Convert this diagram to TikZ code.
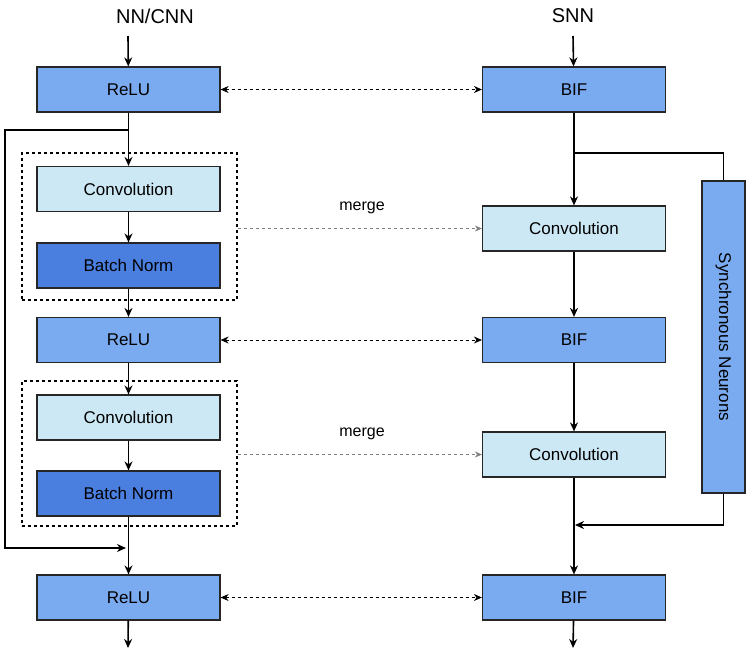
\documentclass[tikz,border=0pt]{standalone}
\usepackage{fontspec}
\setmainfont{Liberation Sans}
\usetikzlibrary{arrows.meta}
\definecolor{mid}{HTML}{7AAAF0}
\definecolor{light}{HTML}{CCE8F5}
\definecolor{dark}{HTML}{4A7FE0}
\begin{document}
\begin{tikzpicture}[x=1pt,y=-1pt,
 box/.style={draw=black!85,line width=1.2pt,minimum width=183pt,minimum height=45pt,inner sep=0pt,font=\fontsize{17}{20}\selectfont},
 flow/.style={line width=1.6pt,-{Stealth[length=9pt,width=8pt]}},
 line/.style={line width=1.6pt},
 dd/.style={dashed,line width=0.8pt,{Stealth[length=8pt,width=7pt]}-{Stealth[length=8pt,width=7pt]}},
 mg/.style={dashed,gray,line width=0.7pt,-{Stealth[length=7pt,width=6pt]}},
 grp/.style={draw,dashed,line width=1.4pt}]
\useasboundingbox (0,0) rectangle (748,654);
% left
\node[box,fill=mid] (r1) at (128.5,89.5) {ReLU};
\node[box,fill=light] (c1) at (128.5,189) {Convolution};
\node[box,fill=dark] (b1) at (128.5,265.5) {Batch Norm};
\node[box,fill=mid] (r2) at (128.5,340) {ReLU};
\node[box,fill=light] (c2) at (128.5,417.5) {Convolution};
\node[box,fill=dark] (b2) at (128.5,493.5) {Batch Norm};
\node[box,fill=mid] (r3) at (128.5,597.5) {ReLU};
\node[grp,minimum width=215pt,minimum height=147pt] (g1) at (129.5,226.5) {};
\node[grp,minimum width=215pt,minimum height=145pt] (g2) at (129.5,453.5) {};
% right
\node[box,fill=mid] (f1) at (574,89.5) {BIF};
\node[box,fill=light] (k1) at (574,228.5) {Convolution};
\node[box,fill=mid] (f2) at (574,340) {BIF};
\node[box,fill=light] (k2) at (574,454.5) {Convolution};
\node[box,fill=mid] (f3) at (574,597.5) {BIF};
\node[draw=black!85,line width=1.2pt,fill=mid,minimum width=312pt,minimum height=43pt,rotate=-90,font=\fontsize{17}{20}\selectfont] (s) at (723.5,337) {Synchronous Neurons};
% labels
\node[font=\fontsize{20}{24}\selectfont] (t1) at (155,16) {NN/CNN};
\node[font=\fontsize{20}{24}\selectfont] (t2) at (573,16) {SNN};
\coordinate (i1) at (128,36); \coordinate (i2) at (573,36);
\draw[flow] (i1) -- (r1);
\draw[flow] (i2) -- (f1);
% left flow
\draw[flow] (r1) -- (c1);
\draw[flow] (c1) -- (b1);
\draw[flow] (b1) -- (r2);
\draw[flow] (r2) -- (c2);
\draw[flow] (c2) -- (b2);
\draw[flow] (b2) -- (r3);
\coordinate (o1) at (128,648); \coordinate (o2) at (573,648);
\draw[flow] (r3) -- (o1);
\draw[flow] (f3) -- (o2);
\draw[line,-{Stealth[length=9pt,width=8pt]}] (128,130) -- (5,130) -- (5,548) -- (126,548);
% right flow
\draw[flow] (f1) -- (k1);
\draw[flow] (k1) -- (f2);
\draw[flow] (f2) -- (k2);
\draw[flow] (k2) -- (f3);
\draw[line] (573,153) -| (s.west);
\draw[line,-{Stealth[length=9pt,width=8pt]}] (s.east) |- (575,525);
% cross links
\draw[dd] (r1) -- (f1);
\draw[dd] (r2) -- (f2);
\draw[dd] (r3) -- (f3);
\draw[mg] (g1.east |- k1) -- (k1);
\draw[mg] (g2.east |- k2) -- (k2);
\node[font=\fontsize{16}{19}\selectfont] (m1) at (362,208) {merge};
\node[font=\fontsize{16}{19}\selectfont] (m2) at (362,434) {merge};
\end{tikzpicture}
\end{document}
